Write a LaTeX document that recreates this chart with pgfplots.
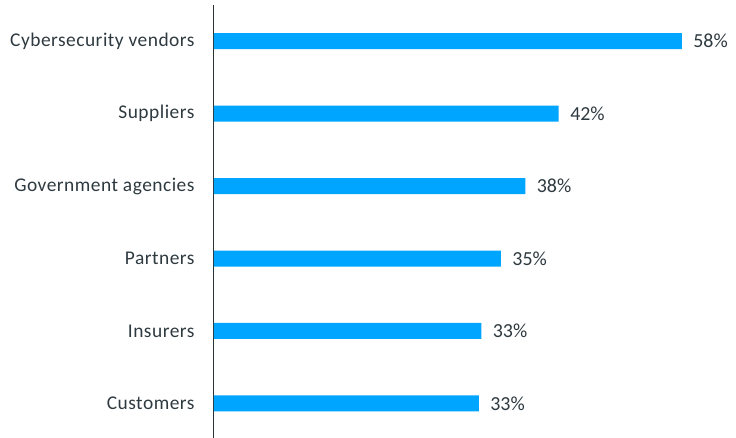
\documentclass[border=0pt]{standalone}
\usepackage{pgfplots}
\pgfplotsset{compat=1.18}
\usepackage{pgfplotstable}
\usepackage{fontspec}
\setmainfont{Carlito}
\newfontfamily\spaced[LetterSpace=2.5]{Carlito}
\definecolor{barblue}{RGB}{0,165,255}
\definecolor{txt}{RGB}{46,58,64}
\definecolor{axisc}{RGB}{40,50,55}
\pgfplotstableread{
y v lab
0 32.5 33
1 32.8 33
2 35.2 35
3 38.2 38
4 42.3 42
5 57.4 58
}\datatab
\begin{document}
\begin{tikzpicture}
\useasboundingbox (-214bp,0) rectangle (522bp,438bp);
\begin{axis}[
  at={(0,0)}, anchor=south west,
  scale only axis,
  width=489bp, height=433bp,
  xmin=0, xmax=60,
  ymin=-0.476, ymax=5.497,
  axis x line=none,
  axis y line=left,
  y axis line style={-, draw=axisc, line width=1pt},
  ytick={0,1,2,3,4,5},
  yticklabels={Customers,Insurers,Partners,Government agencies,Suppliers,Cybersecurity vendors},
  major tick length=0pt,
  yticklabel style={font=\spaced\fontsize{19.5}{23}\selectfont, text=txt, xshift=-16bp},
  xbar, bar width=16bp,
  point meta=explicit symbolic,
  nodes near coords={\pgfplotspointmeta\%},
  nodes near coords style={font=\fontsize{20}{24}\selectfont, text=txt, anchor=west, xshift=8bp},
  clip=false,
]
\addplot[fill=barblue, draw=none] table[x=v, y=y, meta=lab] {\datatab};
\end{axis}
\end{tikzpicture}
\end{document}
